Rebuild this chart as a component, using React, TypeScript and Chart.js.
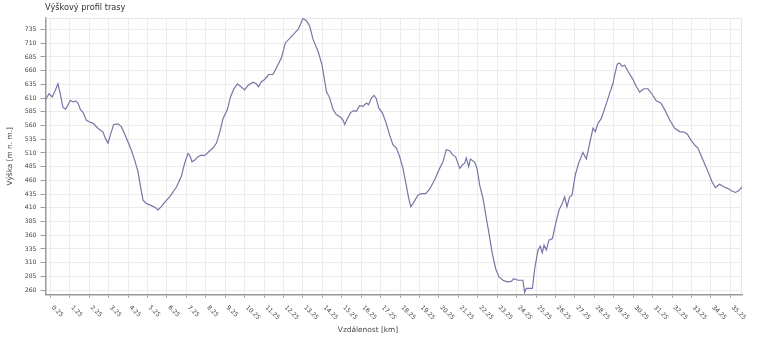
import React, { useEffect, useRef } from "react";
import { Chart, registerables } from "chart.js";

Chart.register(...registerables);

const CHART_TITLE = "Výškový profil trasy";
const X_TITLE = "Vzdálenost [km]";
const Y_TITLE = "Výška [m n. m.]";

const distanceKm = [
  0, 0.18, 0.35, 0.47, 0.64, 0.77, 0.9, 1.04, 1.16, 1.28, 1.42, 1.55, 1.67, 1.8, 1.93,
  2.1, 2.24, 2.45, 2.7, 2.96, 3.08, 3.22, 3.34, 3.51, 3.73, 3.9, 4.02, 4.2, 4.42, 4.59,
  4.76, 4.88, 5.02, 5.19, 5.45, 5.67, 5.79, 5.96, 6.13, 6.39, 6.74, 6.99, 7.16, 7.33,
  7.42, 7.54, 7.68, 7.85, 8.02, 8.16, 8.28, 8.45, 8.62, 8.8, 8.97, 9.14, 9.36, 9.53,
  9.7, 9.88, 10.05, 10.25, 10.42, 10.68, 10.85, 10.97, 11.11, 11.28, 11.49, 11.71,
  11.88, 12.14, 12.35, 12.57, 12.83, 13.0, 13.13, 13.25, 13.43, 13.6, 13.77, 14.03,
  14.23, 14.46, 14.63, 14.8, 14.97, 15.19, 15.31, 15.4, 15.54, 15.71, 15.88, 16.0,
  16.17, 16.34, 16.52, 16.63, 16.77, 16.91, 17.03, 17.15, 17.34, 17.54, 17.71, 17.88,
  18.06, 18.23, 18.4, 18.57, 18.69, 18.8, 18.95, 19.17, 19.35, 19.57, 19.77, 20.03,
  20.29, 20.46, 20.63, 20.8, 20.97, 21.11, 21.23, 21.32, 21.46, 21.57, 21.66, 21.78,
  21.87, 22.09, 22.21, 22.35, 22.52, 22.69, 22.83, 23.0, 23.17, 23.34, 23.55, 23.75,
  23.98, 24.1, 24.32, 24.57, 24.66, 24.75, 25.06, 25.18, 25.35, 25.47, 25.57, 25.66,
  25.78, 25.91, 26.09, 26.26, 26.43, 26.6, 26.72, 26.84, 26.98, 27.1, 27.27, 27.44,
  27.66, 27.84, 28.01, 28.18, 28.3, 28.44, 28.61, 28.82, 29.04, 29.21, 29.3, 29.43,
  29.55, 29.67, 29.81, 29.98, 30.24, 30.41, 30.58, 30.8, 31.01, 31.22, 31.44, 31.67,
  31.87, 32.13, 32.39, 32.64, 32.86, 33.04, 33.21, 33.45, 33.58, 33.84, 34.1, 34.3,
  34.48, 34.7, 34.93, 35.13, 35.3, 35.51, 35.68, 35.85,
];

const elevationM = [
  607, 618, 612, 621, 636, 616, 593, 590, 598, 606, 603, 605, 601, 589, 584,
  570, 567, 564, 555, 548, 537, 528, 543, 562, 563, 558, 549, 534, 515, 497,
  476, 451, 424, 418, 414, 410, 406, 412, 420, 430, 448, 467, 491, 509,
  506, 494, 497, 503, 506, 505, 508, 514, 519, 528, 548, 573, 589, 613,
  627, 636, 631, 625, 633, 639, 636, 631, 640, 644, 653, 653,
  665, 683, 711, 719, 729, 735, 745, 755, 751, 741, 717, 695,
  671, 622, 610, 589, 580, 575, 570, 562, 573, 584, 587, 586,
  596, 595, 601, 598, 610, 615, 609, 592, 583, 564, 543, 525,
  519, 503, 482, 451, 428, 412, 420, 433, 436, 436, 444, 461,
  482, 494, 516, 514, 506, 503, 491, 482, 488, 491, 501, 485,
  499, 493, 482, 451, 427, 391, 363, 326, 299, 284, 278, 275,
  276, 281, 278, 278, 256, 263, 263, 299, 333, 340, 328, 342,
  333, 351, 354, 381, 406, 418, 430, 412, 430, 433, 470, 491,
  511, 499, 528, 555, 549, 564, 573, 595, 619, 637, 653, 672,
  674, 668, 670, 659, 644, 631, 621, 627, 627, 617, 605, 601,
  589, 570, 555, 549, 548, 544, 534, 523, 519, 497, 476, 458,
  447, 453, 448, 445, 441, 438, 441, 448,
];

const yTickValues = [
  260, 285, 310, 335, 360, 385, 410, 435, 460, 485, 510, 535, 560, 585, 610, 635, 660,
  685, 710, 735,
];

const xTickLabels = [
  "0.25", "1.25", "2.25", "3.25", "4.25", "5.25", "6.25", "7.25", "8.25", "9.25",
  "10.25", "11.25", "12.25", "13.25", "14.25", "15.25", "16.25", "17.25", "18.25",
  "19.25", "20.25", "21.25", "22.25", "23.25", "24.25", "25.25", "26.25", "27.25",
  "28.25", "29.25", "30.25", "31.25", "32.25", "33.25", "34.25", "35.25",
];

const FONT = "'DejaVu Sans', sans-serif";

export default function App() {
  const ref = useRef<HTMLCanvasElement | null>(null);

  useEffect(() => {
    const canvas = ref.current;
    if (!canvas) return;

    const decor = {
      id: "decor",
      beforeDatasetsDraw(chart: any) {
        const { ctx, chartArea } = chart;
        ctx.save();
        ctx.strokeStyle = "#e6e6e6";
        ctx.lineWidth = 1;
        ctx.beginPath();
        ctx.moveTo(chartArea.left, chartArea.top + 0.5);
        ctx.lineTo(chartArea.right - 0.5, chartArea.top + 0.5);
        ctx.lineTo(chartArea.right - 0.5, chartArea.bottom);
        ctx.stroke();
        ctx.restore();
      },
      afterDraw(chart: any) {
        const { ctx, chartArea } = chart;
        const xs = chart.scales.x;
        ctx.save();
        ctx.fillStyle = "#333";
        ctx.font = `8.2px ${FONT}`;
        ctx.textAlign = "left";
        ctx.textBaseline = "alphabetic";
        ctx.fillText(CHART_TITLE, 45, 10);
        ctx.font = `7.4px ${FONT}`;
        ctx.fillStyle = "#444";
        ctx.textAlign = "center";
        ctx.textBaseline = "middle";
        ctx.fillText(X_TITLE, 368, 330);
        ctx.save();
        ctx.translate(10, (chartArea.top + chartArea.bottom) / 2);
        ctx.rotate(-Math.PI / 2);
        ctx.fillText(Y_TITLE, 0, 0);
        ctx.restore();
        ctx.font = `6.2px ${FONT}`;
        ctx.fillStyle = "#444";
        ctx.textAlign = "left";
        ctx.textBaseline = "middle";
        xTickLabels.forEach((lab) => {
          const px = xs.getPixelForValue(parseFloat(lab));
          ctx.save();
          ctx.translate(px + 2, chartArea.bottom + 12);
          ctx.rotate(Math.PI / 4);
          ctx.fillText(lab, 0, 0);
          ctx.restore();
        });
        ctx.restore();
      },
    };

    const chart = new Chart(canvas, {
      type: "line",
      data: {
        datasets: [
          {
            data: distanceKm.map((d, i) => ({ x: d, y: elevationM[i] })),
            borderColor: "#7676a6",
            borderWidth: 1.2,
            pointRadius: 0,
            tension: 0,
            fill: false,
          },
        ],
      },
      options: {
        animation: false,
        responsive: false,
        layout: { padding: { left: 0, top: 18, right: 26, bottom: 0 } },
        plugins: {
          legend: { display: false },
          title: { display: false },
          tooltip: { enabled: false },
        },
        scales: {
          x: {
            type: "linear",
            min: 0,
            max: 35.85,
            afterBuildTicks: (scale: any) => {
              scale.ticks = xTickLabels.map((l) => ({ value: parseFloat(l) }));
            },
            afterFit: (scale: any) => {
              scale.height = 57.5;
            },
            ticks: { display: false },
            grid: {
              color: "#ececec",
              tickColor: "#9a9a9a",
              tickLength: 3,
              lineWidth: 1,
            },
            border: { color: "#9a9a9a", width: 1.5 },
          },
          y: {
            type: "linear",
            min: 252,
            max: 756,
            afterBuildTicks: (scale: any) => {
              scale.ticks = yTickValues.map((v) => ({ value: v }));
            },
            afterFit: (scale: any) => {
              scale.width = 45.5;
            },
            ticks: {
              font: { family: FONT, size: 6.2 },
              color: "#444",
              padding: 4,
              callback: (v: any) => String(v),
            },
            grid: {
              color: "#ececec",
              tickColor: "#9a9a9a",
              tickLength: 5,
              lineWidth: 1,
            },
            border: { color: "#9a9a9a", width: 1.5 },
          },
        },
      },
      plugins: [decor],
    });

    return () => chart.destroy();
  }, []);

  return (
    <div style={{ position: "fixed", left: 0, top: 0, width: 768, height: 352, background: "#fff" }}>
      <canvas ref={ref} width={768} height={352} style={{ width: 768, height: 352 }} />
    </div>
  );
}
